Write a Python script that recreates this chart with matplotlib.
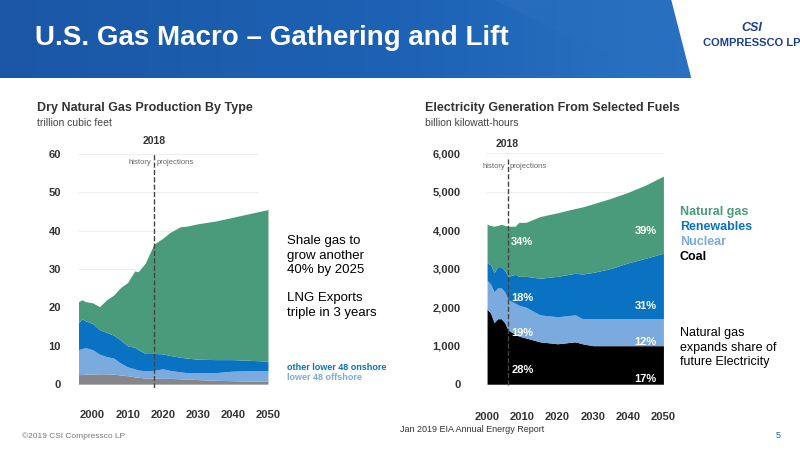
import matplotlib.pyplot as plt
import numpy as np
from matplotlib.patches import Polygon
from matplotlib.colors import LinearSegmentedColormap

plt.rcParams['font.family'] = ['Liberation Sans', 'DejaVu Sans']

# Dry natural gas production by type (trillion cubic feet), stacked tops
gas_years = [1996, 1997, 1998, 2000, 2002, 2004, 2006, 2008, 2010, 2012, 2013, 2015, 2017.5,
             2020, 2022, 2025, 2027, 2030, 2035, 2040, 2045, 2050]
gas_other = [2.5, 2.5, 2.6, 2.6, 2.7, 2.7, 2.6, 2.4, 2.2, 1.9, 1.8, 1.6, 1.6,
             1.5, 1.5, 1.4, 1.3, 1.2, 1.0, 0.9, 0.8, 0.8]
gas_offshore_top = [9.0, 9.3, 9.5, 9.0, 7.8, 7.2, 6.8, 5.5, 4.5, 4.0, 3.7, 3.5, 3.6,
                    4.0, 3.6, 3.2, 3.0, 3.0, 3.0, 3.4, 3.5, 3.5]
gas_onshore_top = [16.0, 17.0, 16.5, 15.8, 14.2, 13.5, 12.8, 11.5, 10.0, 9.6, 9.0, 8.0, 8.0,
                   7.9, 7.5, 7.0, 6.8, 6.5, 6.4, 6.4, 6.2, 6.0]
gas_total = [21.5, 22.0, 21.5, 21.2, 20.2, 22.0, 23.2, 25.2, 26.5, 29.5, 29.3, 31.5, 36.5,
             38.0, 39.5, 41.0, 41.2, 41.8, 42.5, 43.5, 44.5, 45.5]

# Electricity generation from selected fuels (billion kWh), stacked tops
el_years = [2000, 2001, 2002, 2003, 2004, 2005, 2006, 2008, 2009, 2011, 2015, 2020,
            2025, 2027, 2030, 2035, 2040, 2045, 2050]
el_coal = [1950, 1850, 1600, 1700, 1700, 1600, 1400, 1300, 1250, 1200, 1100, 1050,
           1100, 1050, 1000, 1000, 1000, 1000, 1000]
el_nuclear_top = [2700, 2600, 2400, 2500, 2500, 2400, 2200, 2100, 2050, 2000, 1800, 1750,
                  1800, 1700, 1700, 1700, 1700, 1700, 1700]
el_renew_top = [3150, 3100, 2900, 3050, 3050, 2950, 2800, 2850, 2800, 2800, 2750, 2800,
                2880, 2860, 2900, 3000, 3150, 3270, 3400]
el_total = [4150, 4120, 4100, 4120, 4150, 4120, 4100, 4100, 4200, 4200, 4350, 4450,
            4560, 4600, 4680, 4820, 4980, 5170, 5400]

GREEN = '#4a9b7c'
DBLUE = '#0a72c2'
LBLUE = '#7aaade'
GRAY = '#86868a'

fig = plt.figure(figsize=(8, 4.5), dpi=100)
W, H = 800, 450

def px_axes(x0, y0, x1, y1):
    return fig.add_axes([x0 / W, 1 - y1 / H, (x1 - x0) / W, (y1 - y0) / H])

# banner
ban = fig.add_axes([0, 1 - 78 / H, 1, 78 / H])
grad = np.linspace(0, 1, 256).reshape(1, -1)
cm = LinearSegmentedColormap.from_list('b', ['#1b57a6', '#1d62b4', '#2f79c8'])
ban.imshow(grad, aspect='auto', cmap=cm, extent=[0, 1, 0, 1])
ban.add_patch(Polygon([[0.62, 1], [0.82, 0], [1, 0], [1, 1]], color='#2a6fbf', alpha=0.5))
ban.add_patch(Polygon([[0.84, 1], [0.865, 0.0], [1, 0.0], [1, 1]], color='white'))
ban.set_xlim(0, 1); ban.set_ylim(0, 1); ban.axis('off')
fig.text(35 / W, 1 - 38 / H, 'U.S. Gas Macro – Gathering and Lift', color='white',
         fontsize=20, fontweight='bold', va='center')
fig.text(752 / W, 1 - 28 / H, 'CSI', color='#1b3f8f', fontsize=9, fontweight='bold',
         ha='center', va='center', style='italic')
fig.text(752 / W, 1 - 43 / H, 'COMPRESSCO LP', color='#1b3f8f', fontsize=8,
         fontweight='bold', ha='center', va='center')

# left chart
ax = px_axes(75, 152, 275, 388)
x = np.array(gas_years)
ax.fill_between(x, 0, gas_other, color=GRAY, lw=0)
ax.fill_between(x, gas_other, gas_offshore_top, color=LBLUE, lw=0)
ax.fill_between(x, gas_offshore_top, gas_onshore_top, color=DBLUE, lw=0)
ax.fill_between(x, gas_onshore_top, gas_total, color=GREEN, lw=0)
ax.set_xlim(1995, 2052)
ax.set_ylim(-1, 60.5)
ax.set_yticks(range(0, 61, 10))
ax.set_xticks(range(2000, 2051, 10))
for yy in range(10, 61, 10):
    ax.plot([1996, 2047], [yy, yy], color='#eeeeee', lw=0.8, zorder=0)
ax.axvline(2017.5, color='#444444', lw=1, ls='--', ymax=0.99)
ax.text(2017.5, 62.5, '2018', ha='center', fontsize=7.5, fontweight='bold', color='#333333')
ax.text(2016.8, 57.5, 'history', ha='right', fontsize=5.5, color='#666666')
ax.text(2018.3, 57.5, 'projections', ha='left', fontsize=5.5, color='#666666')

# right chart
ax2 = px_axes(480, 153, 674, 390)
x2 = np.array(el_years)
ax2.fill_between(x2, 0, el_coal, color='black', lw=0)
ax2.fill_between(x2, el_coal, el_nuclear_top, color=LBLUE, lw=0)
ax2.fill_between(x2, el_nuclear_top, el_renew_top, color=DBLUE, lw=0)
ax2.fill_between(x2, el_renew_top, el_total, color=GREEN, lw=0)
ax2.set_xlim(1998, 2053)
ax2.set_ylim(-150, 6000)
ax2.set_yticks(range(0, 6001, 1000))
ax2.set_yticklabels([f'{v:,}' for v in range(0, 6001, 1000)])
ax2.set_xticks(range(2000, 2051, 10))
for yy in range(1000, 6001, 1000):
    ax2.plot([2000, 2050], [yy, yy], color='#eeeeee', lw=0.8, zorder=0)
ax2.axvline(2005.8, color='#444444', lw=1, ls='--', ymin=0.02, ymax=0.98)
ax2.text(2005.8, 6150, '2018', ha='center', fontsize=7.5, fontweight='bold', color='#333333')
ax2.text(2005.1, 5620, 'history', ha='right', fontsize=5.5, color='#666666')
ax2.text(2006.5, 5620, 'projections', ha='left', fontsize=5.5, color='#666666')
for xx, yy, s in [(2010, 3600, '34%'), (2045, 3900, '39%'), (2010, 2150, '18%'),
                  (2045, 1950, '31%'), (2010, 1250, '19%'), (2045, 1030, '12%'),
                  (2010, 300, '28%'), (2045, 50, '17%')]:
    ax2.text(xx, yy, s, color='white', fontsize=8, fontweight='bold', ha='center')

for a in (ax, ax2):
    for s in a.spines.values():
        s.set_visible(False)
    a.tick_params(length=0, labelsize=8, colors='#333333')
    a.tick_params(axis='x', pad=16)
    for lab in a.get_xticklabels() + a.get_yticklabels():
        lab.set_fontweight('bold')
ax.tick_params(axis='y', pad=10)
ax2.tick_params(axis='y', pad=14)

# headings
fig.text(37 / W, 1 - 111 / H, 'Dry Natural Gas Production By Type', fontsize=9,
         fontweight='bold', color='#333333')
fig.text(37 / W, 1 - 126 / H, 'trillion cubic feet', fontsize=7.5, color='#444444')
fig.text(425 / W, 1 - 111 / H, 'Electricity Generation From Selected Fuels', fontsize=9,
         fontweight='bold', color='#333333')
fig.text(425 / W, 1 - 126 / H, 'billion kilowatt-hours', fontsize=7.5, color='#444444')

# annotations
fig.text(287 / W, 1 - 235 / H, 'Shale gas to\ngrow another\n40% by 2025', fontsize=9.5,
         va='top', linespacing=1.3)
fig.text(287 / W, 1 - 292 / H, 'LNG Exports\ntriple in 3 years', fontsize=9.5,
         va='top', linespacing=1.3)
fig.text(287 / W, 1 - 368 / H, 'other lower 48 onshore', color=DBLUE, fontsize=6.5,
         fontweight='bold', va='center')
fig.text(287 / W, 1 - 378 / H, 'lower 48 offshore', color=LBLUE, fontsize=6.5,
         fontweight='bold', va='center')
for i, (s, c) in enumerate([('Natural gas', GREEN), ('Renewables', DBLUE),
                            ('Nuclear', LBLUE), ('Coal', 'black')]):
    fig.text(680 / W, 1 - (212 + 15 * i) / H, s, color=c, fontsize=9, fontweight='bold',
             va='center')
fig.text(680 / W, 1 - 327 / H, 'Natural gas\nexpands share of\nfuture Electricity',
         fontsize=9, va='top', linespacing=1.3)

# footer
fig.text(22 / W, 1 - 436 / H, '©2019 CSI Compressco LP', fontsize=6, color='#777777',
         va='center')
fig.text(400 / W, 1 - 430 / H, 'Jan 2019 EIA Annual Energy Report', fontsize=6.5,
         color='#333333', va='center')
fig.text(776 / W, 1 - 436 / H, '5', fontsize=6.5, color='#1b57a6', va='center')

fig.savefig('out.png', dpi=100)
